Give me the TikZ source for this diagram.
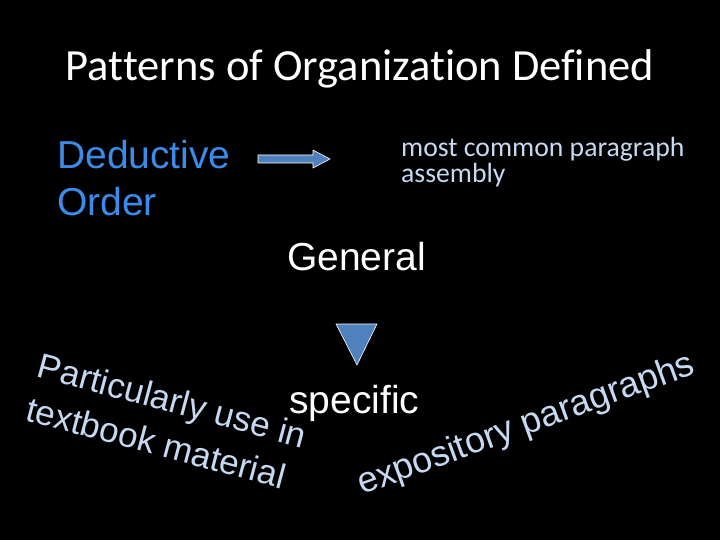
\documentclass[tikz,border=0pt]{standalone}
\usepackage{fontspec}
\setmainfont{Liberation Sans}
\newfontfamily\carlito[Ligatures={NoCommon}]{Carlito}
\usepackage{xcolor}
\usepackage{tikz}
\usetikzlibrary{positioning}
\definecolor{dedblue}{HTML}{3B8BEB}
\definecolor{paleblue}{HTML}{C6D9F1}
\definecolor{shapeblue}{HTML}{4F81BD}

\begin{document}
\begin{tikzpicture}[yscale=-1, x=1pt, y=1pt]
\fill[black] (0,0) rectangle (720,540);
\useasboundingbox (0,0) rectangle (720,540);
% heading
\node[anchor=base, white, font=\carlito\fontsize{44.5}{50}\selectfont] (title) at (360,81) {Patterns of Organization Defined};
% left label and block arrow
\node[anchor=base west, align=left, dedblue, font=\fontsize{39}{47}\selectfont, inner sep=0pt] (ded) at (57,215) {Deductive\\Order};
\filldraw[fill=shapeblue, draw=white, line width=0.6pt] (258,155) -- (313,155) -- (313,150) -- (330,159) -- (313,168) -- (313,163) -- (258,163) -- cycle;
\node[anchor=base west, align=left, paleblue, font=\carlito\fontsize{27.7}{26}\selectfont, inner sep=0pt] (note) at (401,183) {most common paragraph\\assembly};
% general to specific
\node[anchor=base west, white, font=\fontsize{39}{47}\selectfont, inner sep=0pt] (gen) at (287,270) {General};
\filldraw[fill=shapeblue, draw=white, line width=0.6pt] (336,324) -- (377,324) -- (357,365) -- cycle;
\node[anchor=base west, white, font=\fontsize{39}{47}\selectfont, inner sep=0pt] (spec) at (289,413) {specific};
% slanted remarks
\node[anchor=base west, align=left, rotate=-15, paleblue, font=\fontsize{35}{45}\selectfont, inner sep=0pt] (use) at (24,420) {Particularly use in\\textbook material};
\node[anchor=base west, rotate=20, paleblue, font=\fontsize{36}{42}\selectfont, inner sep=0pt] (expo) at (362,495) {expository paragraphs};
\end{tikzpicture}
\end{document}
